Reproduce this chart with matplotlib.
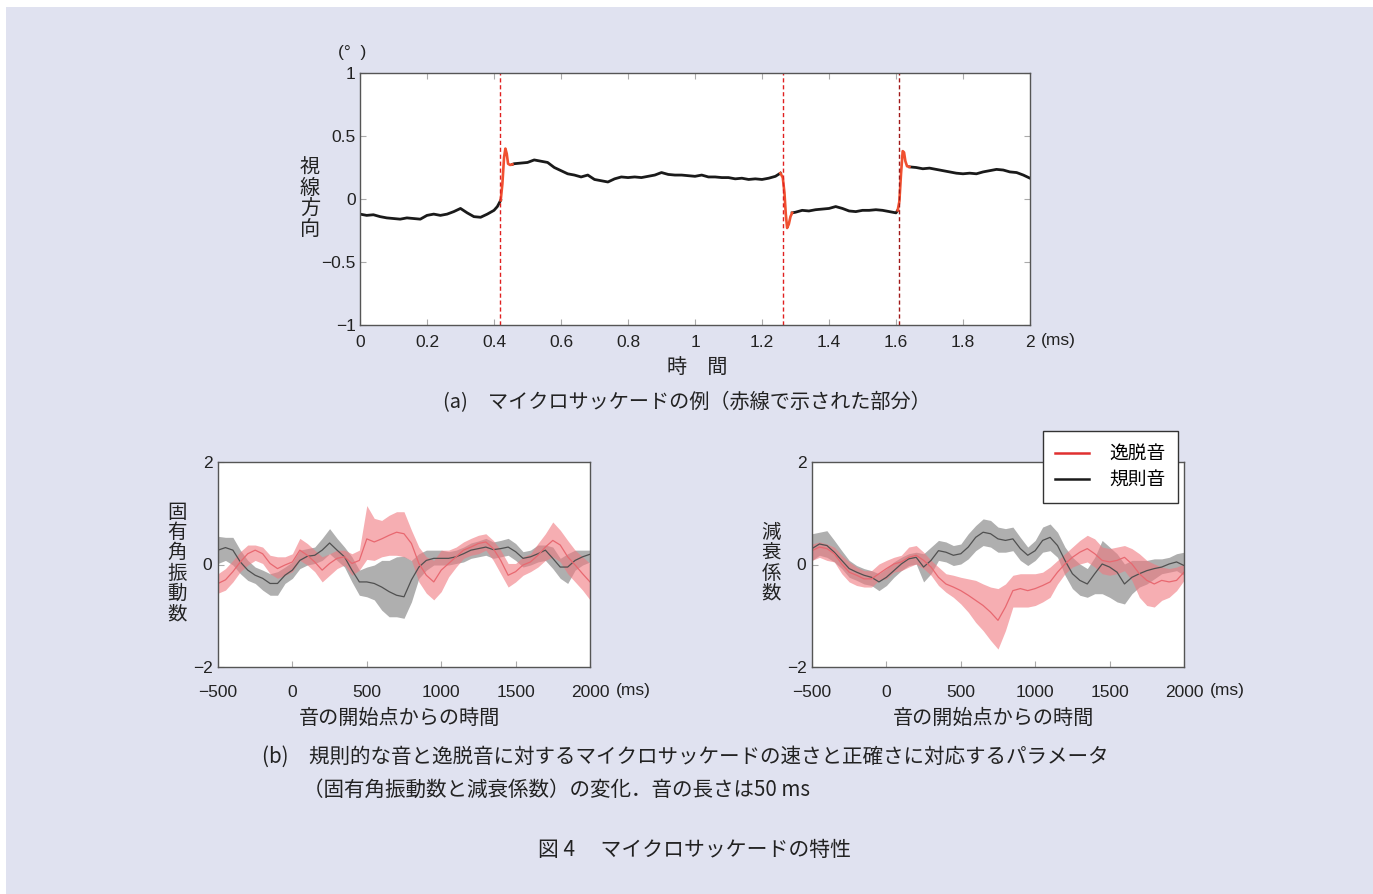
import matplotlib
matplotlib.use('Agg')
import matplotlib.pyplot as plt
from matplotlib.patches import Rectangle
from matplotlib.lines import Line2D

plt.rcParams['font.family'] = ['Liberation Sans', 'Noto Sans CJK JP', 'DejaVu Sans']
JP = ['Noto Sans CJK JP', 'DejaVu Sans']

W, H = 1373, 894
BG = '#e0e2f0'

# ---- (a) gaze trace, degrees vs time ----
seg_a_t = [0.00, 0.02, 0.04, 0.06, 0.08, 0.10, 0.12, 0.14, 0.16, 0.18, 0.20, 0.22, 0.24,
           0.26, 0.28, 0.30, 0.32, 0.34, 0.36, 0.38, 0.40, 0.41, 0.42]
seg_a_y = [-0.12, -0.13, -0.125, -0.14, -0.15, -0.155, -0.16, -0.15, -0.155, -0.16, -0.13,
           -0.12, -0.13, -0.12, -0.10, -0.075, -0.11, -0.14, -0.145, -0.12, -0.09, -0.06, -0.01]
sac1_t = [0.42, 0.425, 0.43, 0.434, 0.438, 0.442, 0.448, 0.455]
sac1_y = [-0.01, 0.12, 0.33, 0.40, 0.36, 0.28, 0.27, 0.275]
seg_b_t = [0.455, 0.46, 0.48, 0.50, 0.52, 0.54, 0.56, 0.58, 0.60, 0.62, 0.64, 0.66, 0.68, 0.70,
           0.72, 0.74, 0.76, 0.78, 0.80, 0.82, 0.84, 0.86, 0.88, 0.90, 0.92, 0.94, 0.96, 0.98,
           1.00, 1.02, 1.04, 1.06, 1.08, 1.10, 1.12, 1.14, 1.16, 1.18, 1.20, 1.22, 1.24, 1.255]
seg_b_y = [0.275, 0.28, 0.285, 0.29, 0.31, 0.30, 0.29, 0.25, 0.225, 0.20, 0.19, 0.175, 0.19,
           0.155, 0.145, 0.135, 0.16, 0.175, 0.17, 0.175, 0.17, 0.18, 0.19, 0.21, 0.195, 0.19,
           0.19, 0.185, 0.18, 0.19, 0.175, 0.175, 0.17, 0.17, 0.16, 0.165, 0.155, 0.16, 0.155,
           0.165, 0.18, 0.205]
sac2_t = [1.255, 1.262, 1.267, 1.271, 1.275, 1.28, 1.285, 1.29]
sac2_y = [0.205, 0.17, 0.05, -0.12, -0.23, -0.20, -0.14, -0.11]
seg_c_t = [1.29, 1.30, 1.32, 1.34, 1.36, 1.38, 1.40, 1.42, 1.44, 1.46, 1.48, 1.50, 1.52, 1.54,
           1.56, 1.58, 1.60, 1.605]
seg_c_y = [-0.11, -0.105, -0.09, -0.095, -0.085, -0.08, -0.075, -0.06, -0.075, -0.095, -0.10,
           -0.09, -0.09, -0.085, -0.09, -0.10, -0.11, -0.09]
sac3_t = [1.605, 1.61, 1.615, 1.62, 1.624, 1.628, 1.633, 1.64]
sac3_y = [-0.09, -0.02, 0.20, 0.38, 0.37, 0.30, 0.26, 0.255]
seg_d_t = [1.64, 1.66, 1.68, 1.70, 1.72, 1.74, 1.76, 1.78, 1.80, 1.82, 1.84, 1.86, 1.88, 1.90,
           1.92, 1.94, 1.96, 1.98, 2.00]
seg_d_y = [0.255, 0.25, 0.24, 0.245, 0.235, 0.225, 0.215, 0.205, 0.20, 0.205, 0.20, 0.215,
           0.225, 0.235, 0.23, 0.215, 0.21, 0.19, 0.165]
onsets = [0.418, 1.263, 1.609]
onset_colors = ['#e02020', '#e02020', '#a01818']

# ---- (b) time from tone onset (ms) ----
t_ms = list(range(-500, 2001, 50))

# natural frequency (left)
f_reg_m = [0.28, 0.33, 0.28, 0.05, -0.11, -0.21, -0.27, -0.37, -0.37, -0.21, -0.11, 0.08, 0.16,
           0.18, 0.28, 0.42, 0.28, 0.15, -0.11, -0.34, -0.34, -0.37, -0.44, -0.53, -0.60, -0.63,
           -0.30, -0.05, 0.08, 0.12, 0.12, 0.12, 0.15, 0.21, 0.28, 0.31, 0.34, 0.29, 0.31, 0.34,
           0.25, 0.12, 0.15, 0.21, 0.28, 0.12, -0.05, -0.05, 0.08, 0.15, 0.20]
f_reg_hi = [0.55, 0.53, 0.53, 0.28, 0.08, -0.05, -0.11, -0.18, -0.14, -0.05, 0.05, 0.28, 0.31,
            0.34, 0.51, 0.70, 0.51, 0.34, 0.15, -0.11, -0.05, -0.01, 0.08, 0.08, 0.15, 0.16,
            0.08, 0.21, 0.28, 0.28, 0.28, 0.25, 0.28, 0.34, 0.42, 0.46, 0.51, 0.44, 0.47, 0.51,
            0.41, 0.25, 0.28, 0.38, 0.38, 0.34, 0.12, 0.21, 0.28, 0.28, 0.28]
f_reg_lo = [0.02, 0.08, -0.01, -0.18, -0.31, -0.37, -0.50, -0.60, -0.60, -0.37, -0.27, -0.08,
            -0.01, 0.02, 0.08, 0.21, 0.08, -0.05, -0.34, -0.60, -0.63, -0.69, -0.89, -1.02, -1.02,
            -1.05, -0.73, -0.27, -0.11, -0.01, -0.01, -0.01, 0.02, 0.05, 0.12, 0.15, 0.18, 0.12,
            0.15, 0.18, 0.08, -0.05, -0.01, 0.05, 0.08, -0.08, -0.27, -0.37, -0.11, -0.01, 0.05]
f_dev_m = [-0.37, -0.30, -0.14, 0.05, 0.21, 0.28, 0.21, 0.02, -0.08, -0.01, 0.05, 0.28, 0.18,
           0.05, -0.11, 0.02, 0.12, 0.15, 0.02, 0.08, 0.50, 0.44, 0.50, 0.57, 0.63, 0.60, 0.41,
           0.02, -0.21, -0.34, -0.11, 0.02, 0.15, 0.28, 0.34, 0.41, 0.44, 0.31, 0.08, -0.21,
           -0.14, -0.01, 0.05, 0.18, 0.34, 0.47, 0.38, 0.15, -0.01, -0.18, -0.34]
f_dev_hi = [-0.18, -0.08, 0.08, 0.25, 0.38, 0.38, 0.34, 0.18, 0.15, 0.15, 0.21, 0.51, 0.41,
            0.28, 0.15, 0.21, 0.28, 0.28, 0.21, 0.28, 1.15, 0.90, 0.86, 0.96, 1.03, 1.03, 0.67,
            0.34, 0.15, 0.08, 0.28, 0.28, 0.34, 0.44, 0.51, 0.57, 0.60, 0.47, 0.28, 0.02, 0.02,
            0.15, 0.21, 0.41, 0.60, 0.83, 0.67, 0.47, 0.28, 0.15, 0.02]
f_dev_lo = [-0.56, -0.50, -0.34, -0.14, -0.01, 0.08, 0.02, -0.18, -0.27, -0.21, -0.14, 0.08,
            -0.01, -0.14, -0.34, -0.21, -0.08, -0.01, -0.21, -0.11, 0.10, 0.08, 0.15, 0.18, 0.18,
            0.15, 0.08, -0.34, -0.56, -0.69, -0.53, -0.24, -0.05, 0.12, 0.18, 0.21, 0.28, 0.08,
            -0.18, -0.44, -0.34, -0.21, -0.14, -0.05, 0.08, 0.15, 0.05, -0.18, -0.34, -0.50, -0.69]

# damping coefficient (right)
d_reg_m = [0.31, 0.40, 0.37, 0.24, 0.08, -0.08, -0.15, -0.21, -0.25, -0.34, -0.25, -0.12, 0.01,
           0.11, 0.14, -0.05, 0.08, 0.27, 0.24, 0.18, 0.21, 0.34, 0.53, 0.63, 0.60, 0.50, 0.47,
           0.50, 0.31, 0.18, 0.27, 0.47, 0.53, 0.37, 0.08, -0.18, -0.31, -0.38, -0.18, 0.01,
           -0.05, -0.15, -0.38, -0.25, -0.18, -0.12, -0.08, -0.05, 0.01, 0.05, -0.02]
d_reg_hi = [0.60, 0.63, 0.66, 0.47, 0.27, 0.08, -0.02, -0.08, -0.12, -0.18, -0.08, 0.05, 0.14,
            0.21, 0.24, 0.21, 0.34, 0.47, 0.44, 0.37, 0.40, 0.60, 0.76, 0.89, 0.86, 0.73, 0.70,
            0.73, 0.53, 0.34, 0.47, 0.73, 0.79, 0.63, 0.34, 0.14, 0.01, -0.08, 0.14, 0.47, 0.34,
            0.21, 0.01, 0.08, 0.08, 0.08, 0.11, 0.11, 0.14, 0.21, 0.24]
d_reg_lo = [0.08, 0.18, 0.14, 0.05, -0.08, -0.25, -0.31, -0.38, -0.41, -0.51, -0.41, -0.25,
            -0.12, -0.02, 0.01, -0.34, -0.18, 0.08, 0.05, -0.02, 0.01, 0.11, 0.27, 0.37, 0.34,
            0.24, 0.24, 0.27, 0.08, -0.02, 0.08, 0.24, 0.27, 0.14, -0.21, -0.47, -0.60, -0.64,
            -0.57, -0.57, -0.64, -0.73, -0.77, -0.57, -0.44, -0.38, -0.28, -0.18, -0.15, -0.12, -0.21]
d_dev_m = [0.27, 0.34, 0.31, 0.21, 0.01, -0.15, -0.21, -0.28, -0.28, -0.18, -0.08, 0.01, 0.05,
           0.14, 0.18, 0.08, -0.05, -0.25, -0.38, -0.44, -0.51, -0.60, -0.70, -0.80, -0.93, -1.09,
           -0.83, -0.51, -0.47, -0.51, -0.47, -0.41, -0.34, -0.15, 0.01, 0.14, 0.24, 0.31, 0.21,
           0.08, 0.05, 0.08, 0.14, 0.01, -0.18, -0.31, -0.38, -0.31, -0.34, -0.31, -0.15]
d_dev_hi = [0.40, 0.44, 0.40, 0.34, 0.18, 0.05, -0.05, -0.12, -0.12, 0.01, 0.08, 0.14, 0.18,
            0.34, 0.37, 0.24, 0.08, -0.05, -0.18, -0.21, -0.25, -0.28, -0.31, -0.38, -0.44, -0.47,
            -0.38, -0.21, -0.18, -0.18, -0.18, -0.15, -0.05, 0.08, 0.21, 0.34, 0.47, 0.57, 0.50,
            0.34, 0.31, 0.34, 0.37, 0.31, 0.21, 0.08, 0.01, -0.05, -0.08, -0.05, 0.01]
d_dev_lo = [0.08, 0.14, 0.08, 0.05, -0.18, -0.34, -0.41, -0.44, -0.44, -0.31, -0.28, -0.15,
            -0.12, -0.05, 0.01, -0.08, -0.21, -0.41, -0.54, -0.64, -0.77, -0.93, -1.13, -1.29,
            -1.48, -1.65, -1.29, -0.83, -0.83, -0.83, -0.80, -0.73, -0.64, -0.38, -0.18, -0.05,
            0.01, 0.05, -0.05, -0.18, -0.21, -0.18, -0.12, -0.31, -0.64, -0.80, -0.83, -0.70,
            -0.64, -0.51, -0.31]

legend_labels = ['逸脱音', '規則音']


def fx(px):
    return px / W


def fy(py):
    return 1 - py / H


fig = plt.figure(figsize=(W / 100, H / 100), dpi=100, facecolor='white')
fig.patches.append(Rectangle((fx(6), 0), 1, fy(7), transform=fig.transFigure,
                             facecolor=BG, edgecolor='none', zorder=-10))

spine_c = '#555555'
txt_c = '#222222'


def style_axes(ax, all_sides=False):
    for s in ax.spines.values():
        s.set_color(spine_c)
        s.set_linewidth(1.0)
    ax.tick_params(direction='in', length=4, color='#aaaaaa', labelsize=12.5,
                   labelcolor=txt_c, pad=4, top=all_sides, right=all_sides)


# ---- top panel ----
ax = fig.add_axes([fx(360), fy(325), fx(1030) - fx(360), fy(73) - fy(325)])
for t, y in [(seg_a_t, seg_a_y), (seg_b_t, seg_b_y), (seg_c_t, seg_c_y), (seg_d_t, seg_d_y)]:
    ax.plot(t, y, color='#1a1a1a', lw=2.0, solid_joinstyle='round')
for t, y in [(sac1_t, sac1_y), (sac2_t, sac2_y), (sac3_t, sac3_y)]:
    ax.plot(t, y, color='#f05030', lw=1.9)
for x0, c in zip(onsets, onset_colors):
    ax.axvline(x0, color=c, lw=1.0, ls=(0, (3, 2)))
ax.set_xlim(0, 2)
ax.set_ylim(-1, 1)
ax.set_xticks([0, 0.2, 0.4, 0.6, 0.8, 1, 1.2, 1.4, 1.6, 1.8, 2])
ax.set_xticklabels(['0', '0.2', '0.4', '0.6', '0.8', '1', '1.2', '1.4', '1.6', '1.8', '2'])
ax.set_yticks([-1, -0.5, 0, 0.5, 1])
ax.set_yticklabels(['\u22121', '\u22120.5', '0', '0.5', '1'])
style_axes(ax, all_sides=True)
ax.tick_params(axis='y', pad=3)
ax.tick_params(axis='x', pad=7)

fig.text(fx(352), fy(52), '(°  )', fontsize=12.5, ha='center', va='center', color=txt_c)
fig.text(fx(1058), fy(340), '(ms)', fontsize=12.5, ha='center', va='center', color=txt_c)
fig.text(fx(310), fy(199), '視\n線\n方\n向', family=JP, fontsize=14.5, ha='center', va='center',
         linespacing=0.95, color=txt_c)
fig.text(fx(697), fy(367), '時　間', family=JP, fontsize=14.5, ha='center', va='center',
         color=txt_c)
fig.text(fx(687), fy(403), '(a)　マイクロサッケードの例（赤線で示された部分）', family=JP,
         fontsize=14.5, ha='center', va='center', color=txt_c)

# ---- bottom panels ----
panels = [
    (218, f_reg_m, f_reg_lo, f_reg_hi, f_dev_m, f_dev_lo, f_dev_hi, '固\n有\n角\n振\n動\n数', 177),
    (812, d_reg_m, d_reg_lo, d_reg_hi, d_dev_m, d_dev_lo, d_dev_hi, '減\n衰\n係\n数', 771),
]
for left, rm, rlo, rhi, dm, dlo, dhi, ylab, ylx in panels:
    bx = fig.add_axes([fx(left), fy(667), 372 / W, fy(462) - fy(667)])
    bx.fill_between(t_ms, rlo, rhi, color='#7a7a7a', alpha=0.6, lw=0)
    bx.fill_between(t_ms, dlo, dhi, color='#f07880', alpha=0.6, lw=0)
    bx.plot(t_ms, rm, color='#505050', lw=0.9)
    bx.plot(t_ms, dm, color='#e86870', lw=0.9)
    bx.set_xlim(-500, 2000)
    bx.set_ylim(-2, 2)
    bx.set_xticks([-500, 0, 500, 1000, 1500, 2000])
    bx.set_xticklabels(['\u2212500', '0', '500', '1000', '1500', '2000'])
    bx.set_yticks([-2, 0, 2])
    bx.set_yticklabels(['\u22122', '0', '2'])
    style_axes(bx)
    bx.tick_params(axis='x', pad=13)
    fig.text(fx(ylx), fy(563), ylab, family=JP, fontsize=14, ha='center', va='center',
             linespacing=0.95, color=txt_c)
    fig.text(fx(left + 182), fy(718), '音の開始点からの時間', family=JP, fontsize=14.5,
             ha='center', va='center', color=txt_c)
    fig.text(fx(left + 415), fy(690), '(ms)', fontsize=12.5, ha='center', va='center',
             color=txt_c)

handles = [Line2D([], [], color='#e03030', lw=1.8), Line2D([], [], color='#1a1a1a', lw=1.8)]
leg = fig.legend(handles, legend_labels, loc='upper left',
                 bbox_to_anchor=(fx(1043), fy(431)), bbox_transform=fig.transFigure,
                 prop={'family': JP, 'size': 13.5}, frameon=True, fancybox=False,
                 edgecolor='#333333', framealpha=1, handlelength=1.8, handletextpad=1.1,
                 borderpad=0.65, labelspacing=0.3, borderaxespad=0)
leg.get_frame().set_linewidth(1.0)

fig.text(fx(262), fy(757), '(b)　規則的な音と逸脱音に対するマイクロサッケードの速さと正確さに対応するパラメータ',
         family=JP, fontsize=14.8, ha='left', va='center', color=txt_c)
fig.text(fx(303), fy(790), '（固有角振動数と減衰係数）の変化．音の長さは50 ms',
         family=JP, fontsize=14.8, ha='left', va='center', color=txt_c)
fig.text(fx(694), fy(850), '図 4　 マイクロサッケードの特性', family=JP, fontsize=15,
         ha='center', va='center', color=txt_c)

fig.savefig('out.png', dpi=100, facecolor=fig.get_facecolor())
